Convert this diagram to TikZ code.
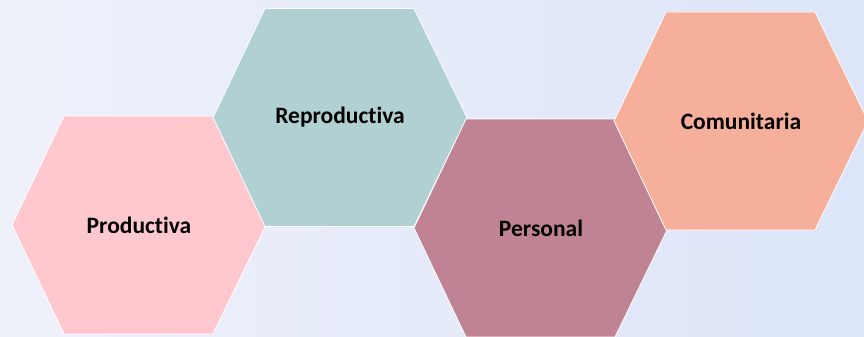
\documentclass[tikz,border=0pt]{standalone}
\usepackage{fontspec}
\setmainfont{Carlito}[Ligatures=NoCommon]
\definecolor{bgL}{HTML}{EFF1FA}
\definecolor{bgR}{HTML}{DCE5F9}
\definecolor{cPink}{HTML}{FFC7CE}
\definecolor{cTeal}{HTML}{B0D0D2}
\definecolor{cMauve}{HTML}{BF8393}
\definecolor{cSalmon}{HTML}{F5AF9B}
\tikzset{
  hexfill/.style={draw=white, line width=0.8pt, line join=miter},
  hexlabel/.style={inner sep=0pt, font=\bfseries\fontsize{23.5}{28}\selectfont, text=black},
}
\newcommand\hexcell[5]{%
  \filldraw[hexfill, fill=#4, shift={(#2,#3)}]
    (-127,0) -- (-75,-109) -- (74,-109) -- (127,0) -- (74,109) -- (-75,109) -- cycle;
  \node[hexlabel] (#1) at (#2,#3) {#5};}
\begin{document}
\begin{tikzpicture}[x=1pt,y=-1pt]
\shade[left color=bgL, right color=bgR] (0,0) rectangle (864,337);
\useasboundingbox (0,0) rectangle (864,337);
\hexcell{prod}{139}{225}{cPink}{Productiva}
\hexcell{repr}{340}{117.5}{cTeal}{Reproductiva}
\hexcell{pers}{541}{228}{cMauve}{Personal}
\hexcell{comu}{741}{121}{cSalmon}{Comunitaria}
\end{tikzpicture}
\end{document}
